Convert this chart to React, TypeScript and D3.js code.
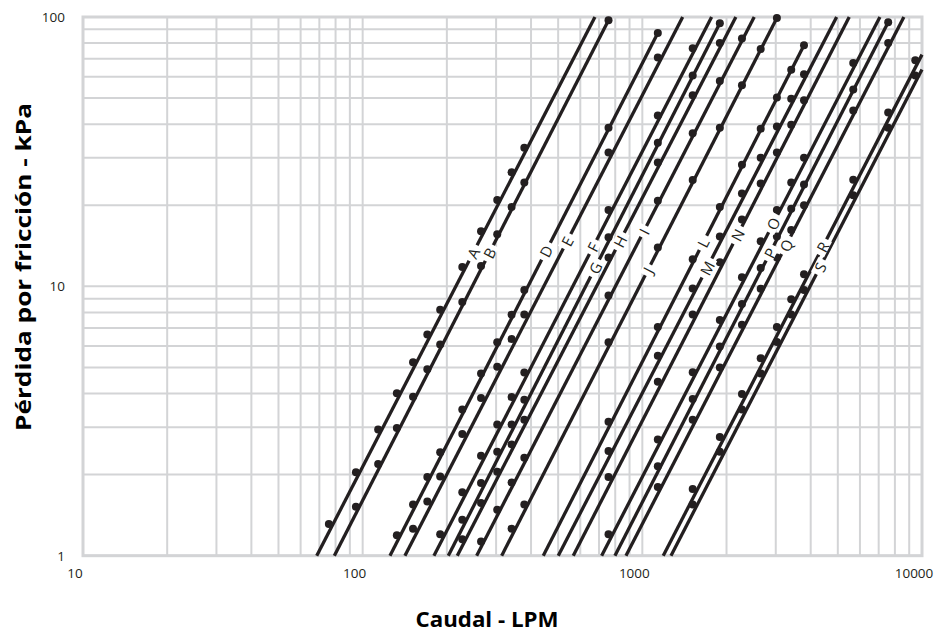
import React, { useEffect, useRef } from "react";
import * as d3 from "d3";

// Curvas de pérdida por fricción: caudal (LPM) vs pérdida (kPa)
const lineNames = ["A", "B", "D", "E", "F", "G", "H", "I", "J", "L", "M", "N", "O", "P", "Q", "R", "S"];

// puntos marcados sobre cada curva [caudal LPM, pérdida kPa]
const ptsA = [[75.7, 1.31], [94.6, 2.04], [113.6, 2.94], [132.5, 4.01], [151.4, 5.23], [170.3, 6.62], [189.3, 8.18], [227.1, 11.8], [265, 16.0], [302.8, 20.9], [340.7, 26.5], [378.5, 32.7]];
const ptsB = [[94.6, 1.52], [113.6, 2.19], [132.5, 2.98], [151.4, 3.89], [170.3, 4.92], [189.3, 6.08], [227.1, 8.75], [265, 11.9], [302.8, 15.6], [340.7, 19.7], [378.5, 24.3], [757, 97.2]];
const ptsD = [[132.5, 1.19], [151.4, 1.55], [170.3, 1.96], [189.3, 2.42], [227.1, 3.49], [265, 4.75], [302.8, 6.2], [340.7, 7.85], [378.5, 9.69], [757, 38.8], [1136, 87.2]];
const ptsE = [[151.4, 1.26], [170.3, 1.59], [189.3, 1.97], [227.1, 2.83], [265, 3.85], [302.8, 5.03], [340.7, 6.37], [378.5, 7.86], [757, 31.4], [1136, 70.7]];
const ptsF = [[189.3, 1.2], [227.1, 1.72], [265, 2.35], [302.8, 3.07], [340.7, 3.88], [378.5, 4.79], [757, 19.2], [1136, 43.1], [1514, 76.6]];
const ptsG = [[227.1, 1.36], [265, 1.86], [302.8, 2.43], [340.7, 3.07], [378.5, 3.79], [757, 15.2], [1136, 34.1], [1514, 60.6], [1893, 94.8]];
const ptsH = [[227.1, 1.15], [265, 1.57], [302.8, 2.05], [340.7, 2.59], [378.5, 3.2], [757, 12.8], [1136, 28.8], [1514, 51.2], [1893, 80.0]];
const ptsI = [[265, 1.13], [302.8, 1.48], [340.7, 1.87], [378.5, 2.31], [757, 9.24], [1136, 20.8], [1514, 37.0], [1893, 57.8], [2271, 83.2]];
const ptsJ = [[340.7, 1.26], [378.5, 1.55], [757, 6.2], [1136, 13.95], [1514, 24.8], [1893, 38.8], [2271, 55.8], [2650, 76.0], [3028, 99.2]];
const ptsL = [[757, 3.14], [1136, 7.07], [1514, 12.6], [1893, 19.7], [2271, 28.3], [2650, 38.5], [3028, 50.3], [3407, 63.7], [3785, 78.6]];
const ptsM = [[757, 2.45], [1136, 5.52], [1514, 9.81], [1893, 15.3], [2271, 22.1], [2650, 30.0], [3028, 39.2], [3407, 49.7], [3785, 61.3]];
const ptsN = [[757, 1.96], [1136, 4.42], [1514, 7.86], [1893, 12.3], [2271, 17.7], [2650, 24.1], [3028, 31.4], [3407, 39.8], [3785, 49.1]];
const ptsO = [[757, 1.2], [1136, 2.7], [1514, 4.8], [1893, 7.5], [2271, 10.8], [2650, 14.7], [3028, 19.2], [3407, 24.3], [3785, 30.0], [5678, 67.5]];
const ptsP = [[1136, 2.15], [1514, 3.82], [1893, 5.98], [2271, 8.6], [2650, 11.7], [3028, 15.3], [3407, 19.4], [3785, 23.9], [5678, 53.8], [7570, 95.6]];
const ptsQ = [[1136, 1.8], [1514, 3.2], [1893, 5.0], [2271, 7.2], [2650, 9.8], [3028, 12.8], [3407, 16.2], [3785, 20.0], [5678, 45.0], [7570, 80.0]];
const ptsR = [[1514, 1.77], [1893, 2.76], [2271, 3.98], [2650, 5.41], [3028, 7.07], [3407, 8.95], [3785, 11.1], [5678, 24.9], [7570, 44.2], [9463, 69.1]];
const ptsS = [[1514, 1.55], [1893, 2.43], [2271, 3.49], [2650, 4.75], [3028, 6.21], [3407, 7.86], [3785, 9.7], [5678, 21.8], [7570, 38.8], [9463, 60.6]];

const dotSeries = [ptsA, ptsB, ptsD, ptsE, ptsF, ptsG, ptsH, ptsI, ptsJ, ptsL, ptsM, ptsN, ptsO, ptsP, ptsQ, ptsR, ptsS];

// extremos de cada recta [caudal, pérdida]
const lineEnds = [
  [[68.5, 1], [677, 100]],
  [[79.2, 1], [757, 97.2]],
  [[125.2, 1], [1136, 87.2]],
  [[141.6, 1], [1394, 100]],
  [[179.8, 1], [1769, 100]],
  [[202.4, 1], [1893, 94.8]],
  [[217.9, 1], [2160, 100]],
  [[255.6, 1], [2512, 100]],
  [[314.1, 1], [3028, 99.2]],
  [[442.3, 1], [3785, 78.6]],
  [[500.5, 1], [4952, 100]],
  [[566.2, 1], [5492, 100]],
  [[715.2, 1], [7071, 100]],
  [[798, 1], [7570, 95.6]],
  [[873.8, 1], [8614, 100]],
  [[1187.7, 1], [10000, 72.5]],
  [[1266, 1], [10000, 63.8]],
];

// pérdida (kPa) a la que va la letra de cada curva
const labelLoss = [13.3, 13.3, 13.5, 14.7, 14.0, 11.7, 14.7, 16.0, 11.5, 14.5, 11.7, 15.5, 17.1, 13.3, 14.2, 14.0, 11.8];

const xTickLabels = [10, 100, 1000, 10000];
const yTickLabels = [1, 10, 100];

const font = "'Open Sans', 'Noto Sans', sans-serif";
const ink = "#231f20";
const gridColor = "#d3d4d6";

export default function App() {
  const ref = useRef<SVGSVGElement>(null);

  useEffect(() => {
    const svg = d3.select(ref.current);
    svg.selectAll("*").remove();

    const left = 83, right = 922, top = 17, bottom = 555.7;
    const x = d3.scaleLog().domain([10, 10000]).range([left, right]);
    const y = d3.scaleLog().domain([1, 100]).range([bottom, top]);

    // grid
    const grid = svg.append("g").attr("stroke", gridColor).attr("stroke-width", 2);
    grid.selectAll("line.vx")
      .data(x.ticks())
      .join("line")
      .attr("x1", (d) => x(d)).attr("x2", (d) => x(d))
      .attr("y1", top).attr("y2", bottom);
    grid.selectAll("line.hy")
      .data(y.ticks())
      .join("line")
      .attr("y1", (d) => y(d)).attr("y2", (d) => y(d))
      .attr("x1", left).attr("x2", right);
    svg.append("rect")
      .attr("x", left).attr("y", top)
      .attr("width", right - left).attr("height", bottom - top)
      .attr("fill", "none").attr("stroke", gridColor).attr("stroke-width", 3);

    // tick labels
    svg.append("g").selectAll("text")
      .data(xTickLabels)
      .join("text")
      .attr("x", (d) => x(d) - 8)
      .attr("y", 578)
      .attr("text-anchor", "middle")
      .attr("font-family", font).attr("font-size", 13.5).attr("fill", ink)
      .text((d) => d);
    svg.append("g").selectAll("text")
      .data(yTickLabels)
      .join("text")
      .attr("x", 65)
      .attr("y", (d) => y(d) + 5)
      .attr("text-anchor", "end")
      .attr("font-family", font).attr("font-size", 13.5).attr("fill", ink)
      .text((d) => d);

    // curves
    const line = d3.line<number[]>().x((d) => x(d[0])).y((d) => y(d[1]));
    const curves = svg.append("g");
    lineEnds.forEach((ends) => {
      curves.append("path")
        .attr("d", line(ends))
        .attr("fill", "none").attr("stroke", ink).attr("stroke-width", 3.3);
    });
    dotSeries.forEach((pts) => {
      curves.append("g").selectAll("circle")
        .data(pts)
        .join("circle")
        .attr("cx", (d) => x(d[0])).attr("cy", (d) => y(d[1]))
        .attr("r", 4).attr("fill", ink);
    });

    // letters on the curves
    const labels = svg.append("g");
    lineNames.forEach((name, i) => {
      const [p0, p1] = lineEnds[i];
      const pl = labelLoss[i];
      const t = (Math.log(pl) - Math.log(p0[1])) / (Math.log(p1[1]) - Math.log(p0[1]));
      const q = Math.exp(Math.log(p0[0]) + t * (Math.log(p1[0]) - Math.log(p0[0])));
      const cx = x(q), cy = y(pl);
      const ang = (Math.atan2(y(p1[1]) - y(p0[1]), x(p1[0]) - x(p0[0])) * 180) / Math.PI;
      const g = labels.append("g").attr("transform", `translate(${cx},${cy}) rotate(${ang})`);
      const bg = g.append("rect").attr("fill", "#fff");
      const txt = g.append("text")
        .attr("text-anchor", "middle")
        .attr("dominant-baseline", "central")
        .attr("font-family", font).attr("font-size", 15).attr("fill", ink)
        .text(name);
      const w = (txt.node() as SVGTextElement).getComputedTextLength() + 8;
      bg.attr("x", -w / 2).attr("y", -6).attr("width", w).attr("height", 12);
    });

    // axis titles
    svg.append("text")
      .attr("x", 487).attr("y", 627)
      .attr("text-anchor", "middle")
      .attr("font-family", font).attr("font-weight", "bold").attr("font-size", 22).attr("fill", "#000")
      .attr("textLength", 143).attr("lengthAdjust", "spacingAndGlyphs")
      .text("Caudal - LPM");
    svg.append("text")
      .attr("transform", "translate(30.5,267) rotate(-90)")
      .attr("text-anchor", "middle")
      .attr("font-family", font).attr("font-weight", "bold").attr("font-size", 22).attr("fill", "#000")
      .attr("textLength", 328).attr("lengthAdjust", "spacingAndGlyphs")
      .text("Pérdida por fricción - kPa");
  }, []);

  return (
    <svg
      ref={ref}
      width={935}
      height={637}
      style={{ position: "absolute", left: 0, top: 0, background: "#fff" }}
    />
  );
}
